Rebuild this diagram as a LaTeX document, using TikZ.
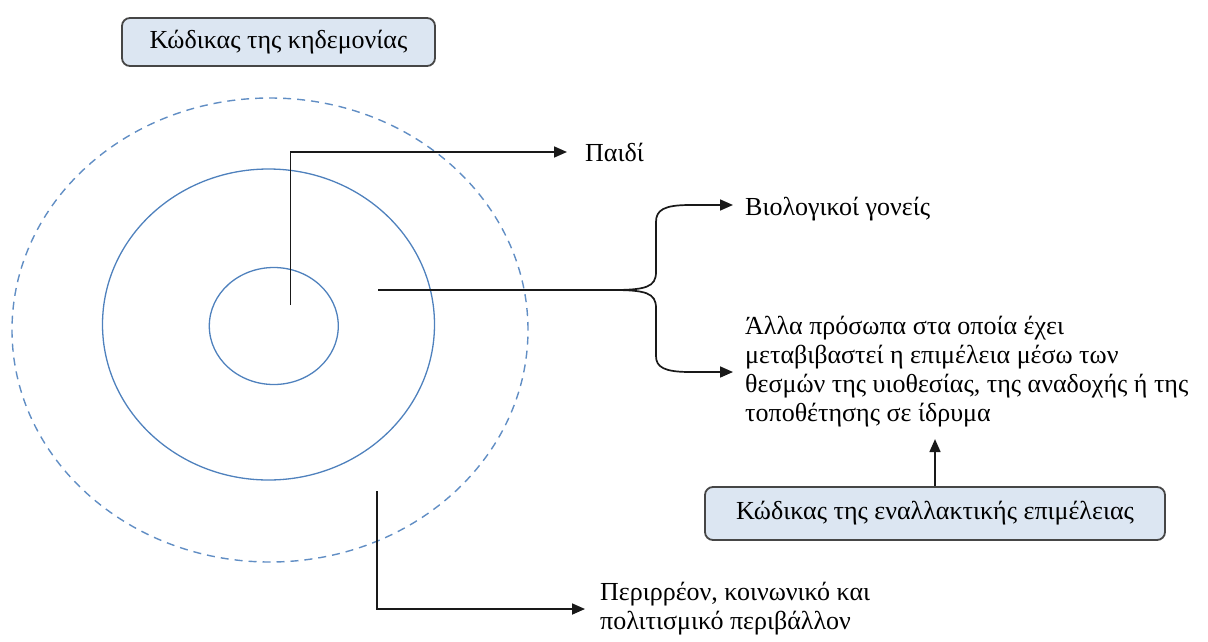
\documentclass[tikz,border=0pt]{standalone}
\usepackage{fontspec}
\setmainfont{Liberation Serif}
\usetikzlibrary{arrows.meta,calc}
\definecolor{ringblue}{RGB}{79,129,189}
\definecolor{boxfill}{RGB}{220,230,242}
\definecolor{boxline}{RGB}{70,70,70}
\definecolor{linegray}{RGB}{25,25,25}
\begin{document}
\begin{tikzpicture}[x=1pt,y=-1pt,
  font=\fontsize{26}{29}\selectfont,
  ring/.style={draw=ringblue, line width=1.3pt},
  outerring/.style={draw=ringblue!90, line width=1.4pt, dash pattern=on 8pt off 6pt},
  codebox/.style={draw=boxline, fill=boxfill, line width=1.8pt, rounded corners=8pt, inner sep=0pt},
  label/.style={inner sep=0pt, align=left, anchor=west},
  conn/.style={draw=linegray, line width=1.7pt, -{Triangle[length=13pt,width=11pt]}}]
\useasboundingbox (0,0) rectangle (1208,641);

% concentric rings: child, parents, surrounding environment
\draw[outerring] (270,330) ellipse [x radius=258pt, y radius=232pt];
\draw[ring] (268.5,324.5) ellipse [x radius=166pt, y radius=155.5pt];
\draw[ring] (273.8,326) ellipse [x radius=64.5pt, y radius=58.5pt];

% code boxes
\node[codebox, minimum width=313pt, minimum height=48pt] (custody) at (278.5,42) {Κώδικας της κηδεμονίας};
\node[codebox, minimum width=460pt, minimum height=53pt] (altcare) at (935,513.5) {Κώδικας της εναλλακτικής επιμέλειας};

% labels
\node[label] (child) at (585,152) {Παιδί};
\node[label] (bio) at (745,209) {Βιολογικοί γονείς};
\node[label] (others) at (745,372) {Άλλα πρόσωπα στα οποία έχει\\μεταβιβαστεί η επιμέλεια μέσω των\\θεσμών της υιοθεσίας, της αναδοχής ή της\\τοποθέτησης σε ίδρυμα};
\node[label] (env) at (600,609) {Περιρρέον, κοινωνικό και\\πολιτισμικό περιβάλλον};

% stems leaving the rings
\coordinate (childStem) at (290.5,305);
\coordinate (famStem) at (378,290);
\coordinate (envStem) at (377,491);

% connectors
\draw[conn] (childStem) |- ([xshift=-18pt]child.west);
\draw[conn] (famStem) -- (612,290) .. controls (646,290) and (656,287) .. (656,272)
  -- (656,222) .. controls (656,210) and (664,205) .. (690,205) -- ([xshift=-12pt,yshift=4pt]bio.west);
\draw[conn] (famStem) -- (612,290) .. controls (646,290) and (656,293) .. (656,308)
  -- (656,356) .. controls (656,367) and (664,372) .. (690,372) -- ([xshift=-12pt]others.west);
\draw[conn] (altcare.north) -- ([yshift=47pt]altcare.north);
\draw[conn] (envStem) |- ([xshift=-15pt]env.west);
\end{tikzpicture}
\end{document}
